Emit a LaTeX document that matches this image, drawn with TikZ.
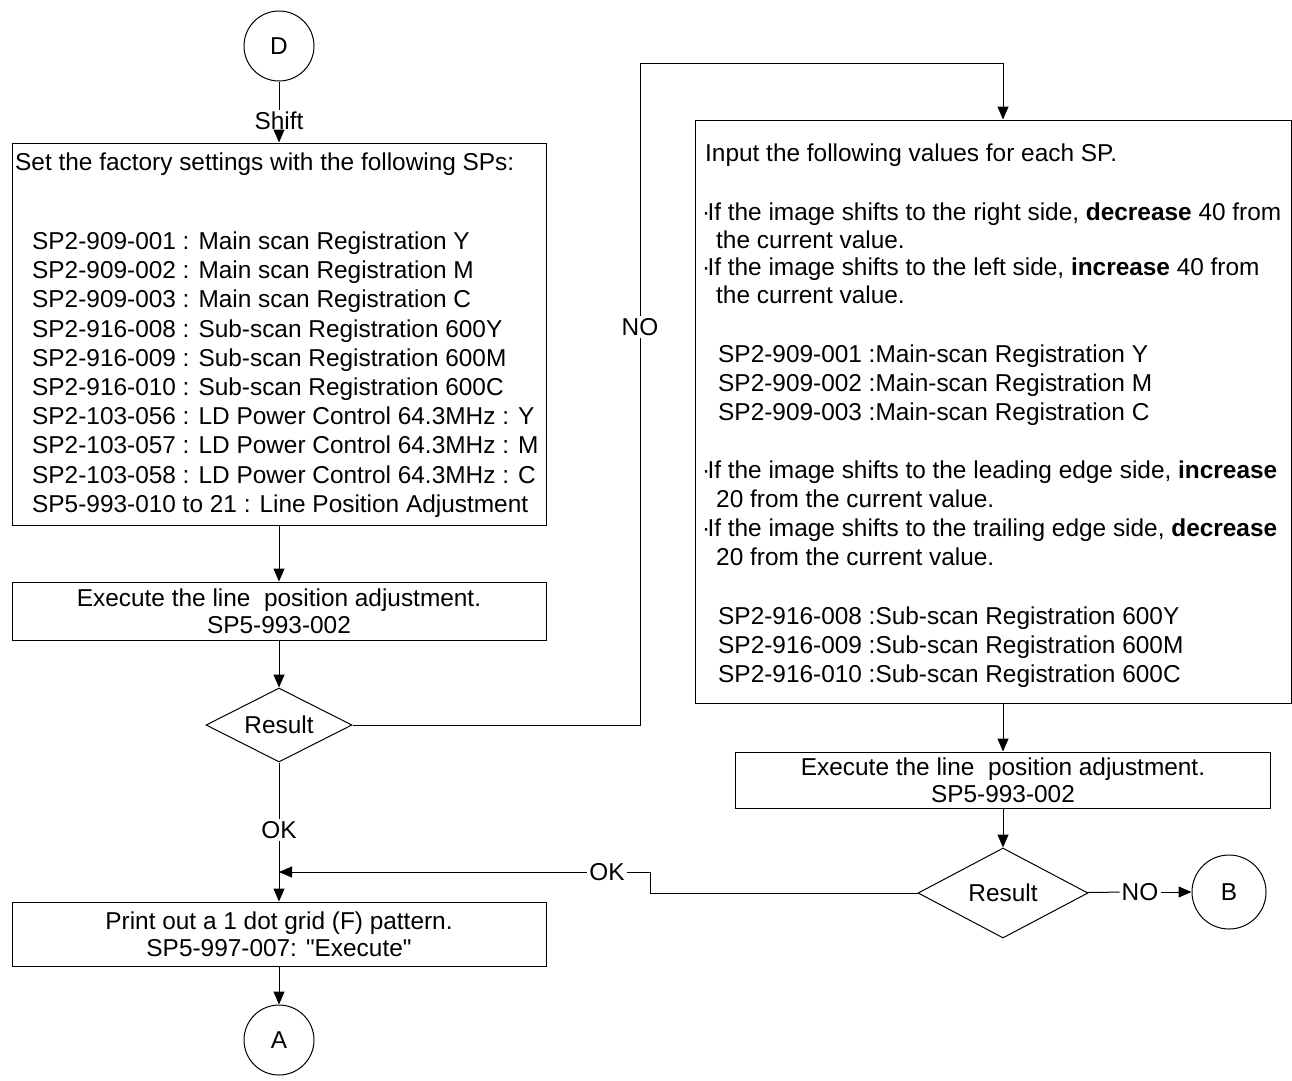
\documentclass[tikz,border=0pt]{standalone}
\usepackage{fontspec}
\newfontfamily\lib{Liberation Sans}
\usetikzlibrary{arrows.meta,shapes.geometric}
\begin{document}
\begin{tikzpicture}[x=1pt,y=-1pt,
 every node/.style={font=\lib\fontsize{24.4}{27}\selectfont},
 boxs/.style={draw, line width=1pt, rectangle, inner sep=0pt, align=center},
 conn/.style={draw, circle, line width=1pt, inner sep=0pt},
 dec/.style={draw, diamond, line width=1pt, inner sep=0pt},
 txt/.style={anchor=base west, inner sep=0pt},
 lbl/.style={inner sep=2pt},
 arr/.style={line width=1pt, -{Triangle[length=13pt,width=11pt]}},
 ln/.style={line width=1pt}]
\useasboundingbox (0,0) rectangle (1292,1080);
% left column
\node[conn, minimum size=70pt] (D) at (279,46) {D};
\node[lbl] (shift) at (279,121) {Shift};
\node[boxs, minimum width=534pt, minimum height=382pt] (b1) at (279,334) {};
\node[txt] (t0) at (15,170.5) {Set the factory settings with the following SPs:};
\node[txt] (s1) at (32,249.5) {SP2-909-001 : Main scan Registration Y};
\node[txt] (s2) at (32,278.7) {SP2-909-002 : Main scan Registration M};
\node[txt] (s3) at (32,307.9) {SP2-909-003 : Main scan Registration C};
\node[txt] (s4) at (32,337.1) {SP2-916-008 : Sub-scan Registration 600Y};
\node[txt] (s5) at (32,366.3) {SP2-916-009 : Sub-scan Registration 600M};
\node[txt] (s6) at (32,395.5) {SP2-916-010 : Sub-scan Registration 600C};
\node[txt] (s7) at (32,424.7) {SP2-103-056 : LD Power Control 64.3MHz : Y};
\node[txt] (s8) at (32,453.9) {SP2-103-057 : LD Power Control 64.3MHz : M};
\node[txt] (s9) at (32,483.1) {SP2-103-058 : LD Power Control 64.3MHz : C};
\node[txt] (s10) at (32,512.3) {SP5-993-010 to 21 : Line Position Adjustment};
\node[boxs, minimum width=534pt, minimum height=58pt] (b2) at (279,611) {Execute the line\ \ position adjustment.\\SP5-993-002};
\node[dec, minimum width=146pt, minimum height=74pt, aspect=2] (d1) at (279,725) {Result};
\node[lbl] (ok1) at (279,830) {OK};
\node[boxs, minimum width=534pt, minimum height=64pt] (b4) at (279,934) {Print out a 1 dot grid (F) pattern.\\SP5-997-007: "Execute"};
\node[conn, minimum size=70pt] (A) at (279,1040) {A};
% right column
\node[boxs, minimum width=596pt, minimum height=583pt] (b3) at (993,411.5) {};
\node[txt] (r0) at (705,161.5) {Input the following values for each SP.};
\node[txt] (r1) at (702,220.5) {·\kern-2.8pt If the image shifts to the right side, \textbf{decrease} 40 from};
\node[txt] (r2) at (716,248.5) {the current value.};
\node[txt] (r3) at (702,275.5) {·\kern-2.8pt If the image shifts to the left side, \textbf{increase} 40 from};
\node[txt] (r4) at (716,303.5) {the current value.};
\node[txt] (r5) at (718,362.5) {SP2-909-001 :Main-scan Registration Y};
\node[txt] (r6) at (718,391.5) {SP2-909-002 :Main-scan Registration M};
\node[txt] (r7) at (718,420.5) {SP2-909-003 :Main-scan Registration C};
\node[txt] (r8) at (702,478.5) {·\kern-2.8pt If the image shifts to the leading edge side, \textbf{increase}};
\node[txt] (r9) at (716,507.5) {20 from the current value.};
\node[txt] (r10) at (702,536.5) {·\kern-2.8pt If the image shifts to the trailing edge side, \textbf{decrease}};
\node[txt] (r11) at (716,565.5) {20 from the current value.};
\node[txt] (r12) at (718,624.5) {SP2-916-008 :Sub-scan Registration 600Y};
\node[txt] (r13) at (718,653.5) {SP2-916-009 :Sub-scan Registration 600M};
\node[txt] (r14) at (718,682.5) {SP2-916-010 :Sub-scan Registration 600C};
\node[boxs, minimum width=535pt, minimum height=56pt] (b5) at (1003,780) {Execute the line\ \ position adjustment.\\SP5-993-002};
\node[dec, minimum width=170pt, minimum height=90pt, aspect=1.9] (d2) at (1003,893) {Result};
\node[lbl] (no2) at (1140,892) {NO};
\node[conn, minimum size=74pt] (B) at (1229,892) {B};
\node[lbl] (no1) at (640,327) {NO};
\node[lbl] (ok2) at (607,872) {OK};
\coordinate (c1) at (640,725);
\coordinate (c2) at (640,63);
\coordinate (c3) at (1003,63);
\coordinate (c4) at (650,893);
\coordinate (c5) at (650,872);
\coordinate (m) at (279,872);
% connectors
\draw[ln] (D) -- (shift);
\draw[arr] (shift) -- (b1);
\draw[arr] (b1) -- (b2);
\draw[arr] (b2) -- (d1);
\draw[ln] (d1.east) -- (c1) -- (no1);
\draw[arr] (no1) -- (c2) -- (c3) -- (c3 |- b3.north);
\draw[ln] (d1) -- (ok1);
\draw[arr] (ok1) -- (b4);
\draw[arr] (b4) -- (A);
\draw[arr] (b5.north |- b3.south) -- (b5.north);
\draw[arr] (b5) -- (d2);
\draw[ln] (d2) -- (no2);
\draw[arr] (no2) -- (B);
\draw[ln] (d2.west) -- (c4) -- (c5) -- (ok2);
\draw[arr] (ok2) -- (m);
\end{tikzpicture}
\end{document}
